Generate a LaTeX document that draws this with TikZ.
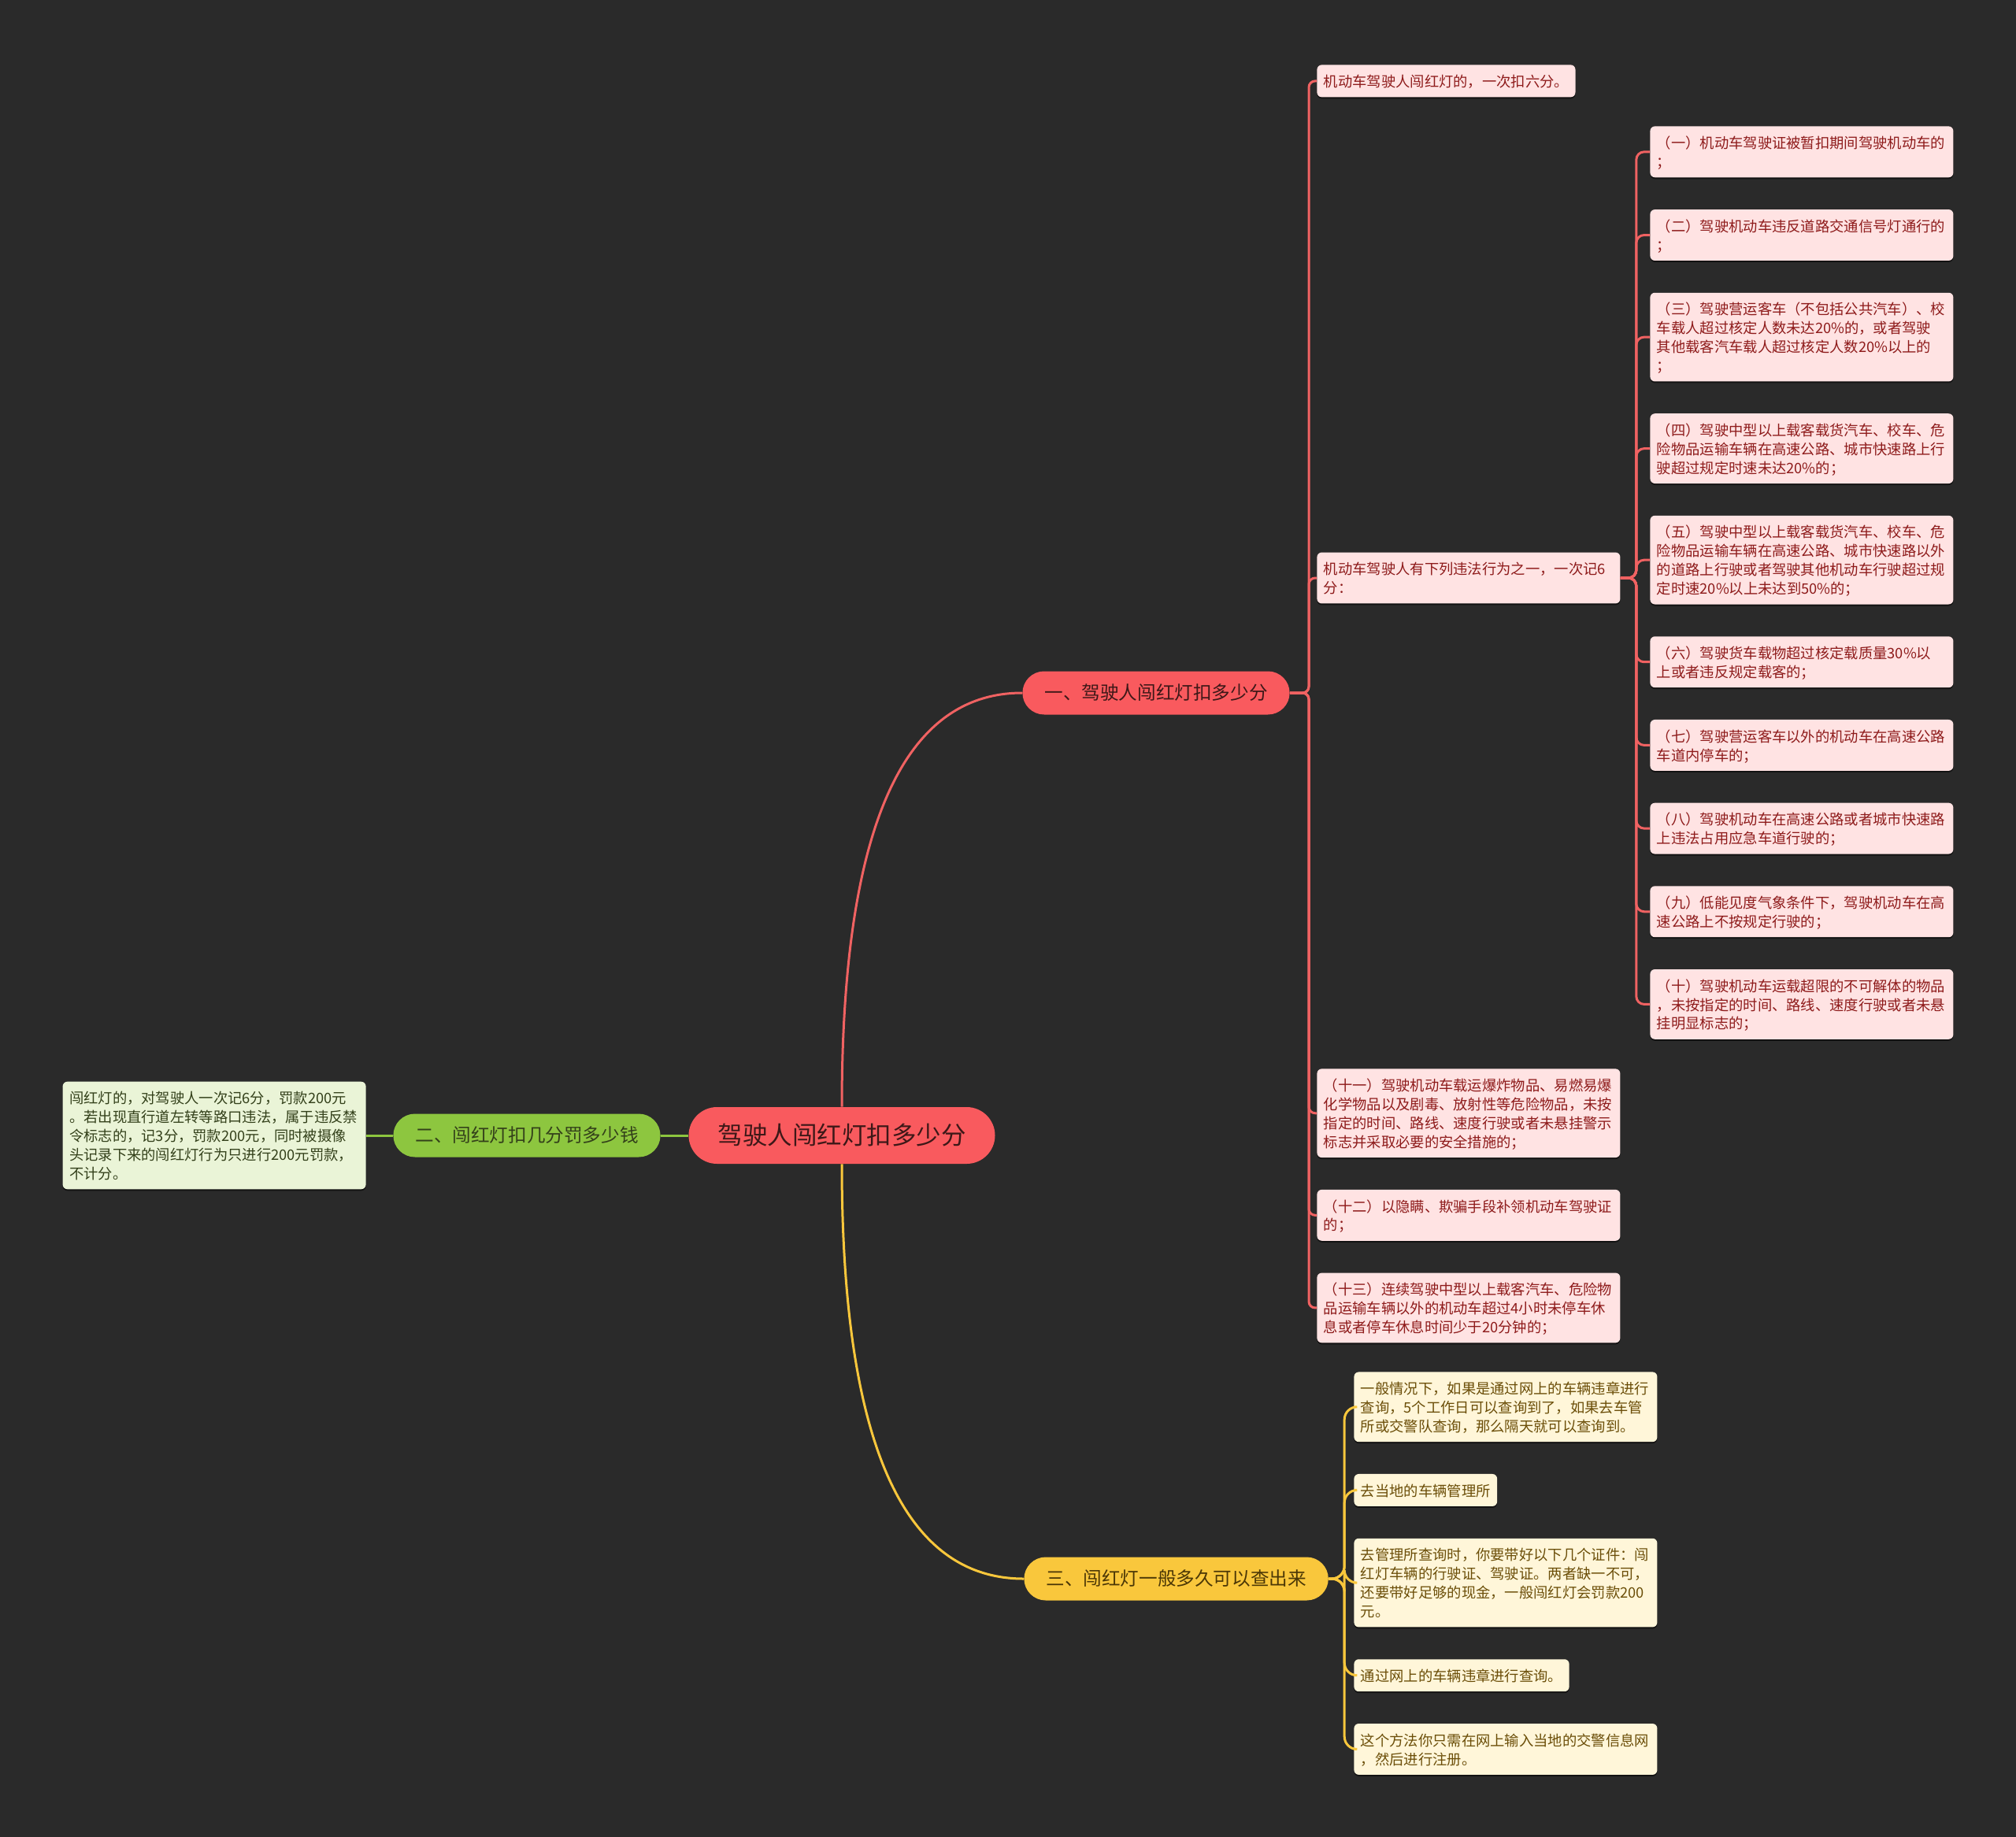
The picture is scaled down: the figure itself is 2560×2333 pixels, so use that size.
\documentclass[tikz,border=0pt]{standalone}
\usepackage{fontspec}
\setmainfont{Noto Sans CJK SC}
\usetikzlibrary{positioning}
\usetikzlibrary{shadows}
\setlength{\parindent}{0pt}
\newcommand{\leafstrut}{\rule[-2.15pt]{0pt}{11.95pt}}

\definecolor{bgcol}{HTML}{2A2A2A}
\definecolor{rootred}{HTML}{F95A5E}
\definecolor{roottext}{HTML}{3D1818}
\definecolor{redline}{HTML}{F06262}
\definecolor{pinkfill}{HTML}{FFE3E3}
\definecolor{pinktext}{HTML}{8E1B1B}
\definecolor{greenfill}{HTML}{8DC63F}
\definecolor{greenleaf}{HTML}{EAF4D7}
\definecolor{greentext}{HTML}{33401A}
\definecolor{yellowfill}{HTML}{F9C73C}
\definecolor{yellowleaf}{HTML}{FFF6D9}
\definecolor{yellowtext}{HTML}{6B4E08}

\tikzset{
    node distance=20pt,
    topic/.style={
        rounded corners=18pt,
        fill=rootred,
        text=roottext,
        minimum height=36pt,
        inner xsep=18.5pt,
        font=\fontsize{15.75pt}{18pt}\selectfont
    },
    branch/.style={
        rounded corners=13.75pt,
        minimum height=27.5pt,
        inner xsep=14pt,
        font=\fontsize{11.8pt}{14pt}\selectfont
    },
    leaf/.style={
        rounded corners=3pt,
        inner xsep=4.25pt,
        inner ysep=4.27pt,
        align=left,
        font=\fontsize{9.15pt}{11.95pt}\selectfont,
        execute at begin node=\leafstrut,
        execute at end node=\leafstrut,
        drop shadow={shadow xshift=0pt, shadow yshift=-1pt, fill=black, opacity=0.55}
    },
    wide/.style={text width=184pt},
    red leaf/.style={leaf, fill=pinkfill, text=pinktext},
    green leaf/.style={leaf, fill=greenleaf, text=greentext},
    yellow leaf/.style={leaf, fill=yellowleaf, text=yellowtext},
    redwire/.style={draw=redline, line width=1.5pt},
    greenwire/.style={draw=greenfill, line width=1.5pt},
    yellowwire/.style={draw=yellowfill, line width=1.5pt},
    red tree/.style={redwire, rounded corners=4pt,
        to path={-- ++(24,0) |- (\tikztotarget)}},
    pink tree/.style={redwire, rounded corners=5pt,
        to path={-- ++(20,0) |- (\tikztotarget)}},
    yellow tree/.style={yellowwire, rounded corners=8pt,
        to path={-- ++(20,0) |- (\tikztotarget)}}
}

\begin{document}
\begin{tikzpicture}[x=0.5pt, y=0.5pt]
    \fill[bgcol] (0,0) rectangle (2560,-2333);
    \useasboundingbox (0,0) rectangle (2560,-2333);

    \node[topic] (0) at (1069,-1442) {驾驶人闯红灯扣多少分};
    \node[branch, fill=rootred, text=roottext, anchor=west] (1) at (1298,-880) {一、驾驶人闯红灯扣多少分};
    \node[branch, fill=greenfill, text=greentext, anchor=east] (2) at (839,-1442) {二、闯红灯扣几分罚多少钱};
    \node[branch, fill=yellowfill, text=yellowtext!70!black, anchor=west] (3) at (1300,-2005) {三、闯红灯一般多久可以查出来};

    \node[red leaf, anchor=north west] (11) at (1672,-82) {机动车驾驶人闯红灯的，一次扣六分。};
    \node[red leaf, wide, anchor=west] (12) at (1672,-734) {机动车驾驶人有下列违法行为之一，一次记6\\分：};
    \node[red leaf, wide, anchor=north west] (12a) at (2095,-160) {（一）机动车驾驶证被暂扣期间驾驶机动车的\\；};
    \node[red leaf, wide, below=of 12a] (12b) {（二）驾驶机动车违反道路交通信号灯通行的\\；};
    \node[red leaf, wide, below=of 12b] (12c) {（三）驾驶营运客车（不包括公共汽车）、校\\车载人超过核定人数未达20\%的，或者驾驶\\其他载客汽车载人超过核定人数20\%以上的\\；};
    \node[red leaf, wide, below=of 12c] (12d) {（四）驾驶中型以上载客载货汽车、校车、危\\险物品运输车辆在高速公路、城市快速路上行\\驶超过规定时速未达20\%的；};
    \node[red leaf, wide, below=of 12d] (12e) {（五）驾驶中型以上载客载货汽车、校车、危\\险物品运输车辆在高速公路、城市快速路以外\\的道路上行驶或者驾驶其他机动车行驶超过规\\定时速20\%以上未达到50\%的；};
    \node[red leaf, wide, below=of 12e] (12f) {（六）驾驶货车载物超过核定载质量30\%以\\上或者违反规定载客的；};
    \node[red leaf, wide, below=of 12f] (12g) {（七）驾驶营运客车以外的机动车在高速公路\\车道内停车的；};
    \node[red leaf, wide, below=of 12g] (12h) {（八）驾驶机动车在高速公路或者城市快速路\\上违法占用应急车道行驶的；};
    \node[red leaf, wide, below=of 12h] (12i) {（九）低能见度气象条件下，驾驶机动车在高\\速公路上不按规定行驶的；};
    \node[red leaf, wide, below=of 12i] (12j) {（十）驾驶机动车运载超限的不可解体的物品\\，未按指定的时间、路线、速度行驶或者未悬\\挂明显标志的；};
    \node[red leaf, wide, anchor=north west] (13) at (1672,-1357) {（十一）驾驶机动车载运爆炸物品、易燃易爆\\化学物品以及剧毒、放射性等危险物品，未按\\指定的时间、路线、速度行驶或者未悬挂警示\\标志并采取必要的安全措施的；};
    \node[red leaf, wide, below=of 13] (14) {（十二）以隐瞒、欺骗手段补领机动车驾驶证\\的；};
    \node[red leaf, wide, below=of 14] (15) {（十三）连续驾驶中型以上载客汽车、危险物\\品运输车辆以外的机动车超过4小时未停车休\\息或者停车休息时间少于20分钟的；};

    \node[green leaf, wide, anchor=east] (21) at (465,-1442) {闯红灯的，对驾驶人一次记6分，罚款200元\\。若出现直行道左转等路口违法，属于违反禁\\令标志的，记3分，罚款200元，同时被摄像\\头记录下来的闯红灯行为只进行200元罚款，\\不计分。};

    \node[yellow leaf, wide, anchor=north west] (31) at (1719,-1742) {一般情况下，如果是通过网上的车辆违章进行\\查询，5个工作日可以查询到了，如果去车管\\所或交警队查询，那么隔天就可以查询到。};
    \node[yellow leaf, below=of 31.south west, anchor=north west] (32) {去当地的车辆管理所};
    \node[yellow leaf, wide, below=of 32.south west, anchor=north west] (33) {去管理所查询时，你要带好以下几个证件：闯\\红灯车辆的行驶证、驾驶证。两者缺一不可，\\还要带好足够的现金，一般闯红灯会罚款200\\元。};
    \node[yellow leaf, below=of 33.south west, anchor=north west] (34) {通过网上的车辆违章进行查询。};
    \node[yellow leaf, wide, below=of 34.south west, anchor=north west] (35) {这个方法你只需在网上输入当地的交警信息网\\，然后进行注册。};

    \draw[redwire] (0.north) .. controls +(0,350) and +(-153,0) .. (1.west);
    \draw[yellowwire] (0.south) .. controls +(0,-351) and +(-154,0) .. (3.west);
    \draw[greenwire] (21) -- (2) -- (0);

    \draw (1.east) edge[red tree] (11.west)
        edge[red tree] (12.west)
        edge[red tree] (13.west)
        edge[red tree] (14.west)
        edge[red tree] (15.west);
    \draw (12.east) edge[pink tree] (12a.west)
        edge[pink tree] (12b.west)
        edge[pink tree] (12c.west)
        edge[pink tree] (12d.west)
        edge[pink tree] (12e.west)
        edge[pink tree] (12f.west)
        edge[pink tree] (12g.west)
        edge[pink tree] (12h.west)
        edge[pink tree] (12i.west)
        edge[pink tree] (12j.west);
    \draw (3.east) edge[yellow tree] (31.west)
        edge[yellow tree] (32.west)
        edge[yellow tree] (33.west)
        edge[yellow tree] (34.west)
        edge[yellow tree] (35.west);
\end{tikzpicture}
\end{document}
